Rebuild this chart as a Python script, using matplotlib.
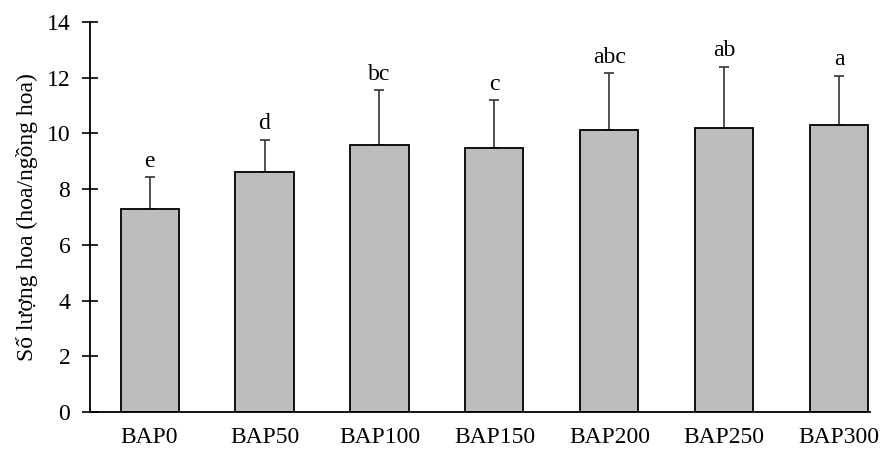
import matplotlib.pyplot as plt

plt.rcParams['font.family'] = ['Liberation Serif', 'DejaVu Serif']

treatments = ['BAP0', 'BAP50', 'BAP100', 'BAP150', 'BAP200', 'BAP250', 'BAP300']
means = [7.27, 8.6, 9.57, 9.46, 10.14, 10.2, 10.32]
errors = [1.15, 1.18, 1.98, 1.73, 2.02, 2.2, 1.76]
letters = ['e', 'd', 'bc', 'c', 'abc', 'ab', 'a']

fig = plt.figure(figsize=(8.89, 4.54), dpi=100)
ax = fig.add_axes([0.101, 0.0925, 0.878, 0.859])

x = range(len(treatments))
ax.bar(x, means, width=0.505, color='#bdbdbd', edgecolor='black', linewidth=1.3, zorder=2)
ax.errorbar(x, means, yerr=[[0] * len(errors), errors], fmt='none', ecolor='#333333',
            elinewidth=1.2, capsize=3.5, capthick=1.2, zorder=1)

# significance letters above the error bars
for xi, m, e, lab in zip(x, means, errors, letters):
    ax.annotate(lab, (xi, m + e), xytext=(0, 4), textcoords='offset points',
                ha='center', va='bottom', fontsize=17)

ax.set_xlim(-0.52, 6.27)
ax.set_ylim(0, 14)
ax.set_yticks(range(0, 15, 2))
ax.set_xticks(list(x))
ax.set_xticklabels(treatments, fontsize=17)
ax.tick_params(axis='y', direction='inout', length=12, width=1.2, labelsize=17, pad=8)
ax.tick_params(axis='x', length=0, pad=11)
ax.set_ylabel('Số lượng hoa (hoa/ngồng hoa)', fontsize=17, labelpad=6)

for s in ['top', 'right']:
    ax.spines[s].set_visible(False)
for s in ['left', 'bottom']:
    ax.spines[s].set_linewidth(1.3)

fig.savefig('out.png', dpi=100)
